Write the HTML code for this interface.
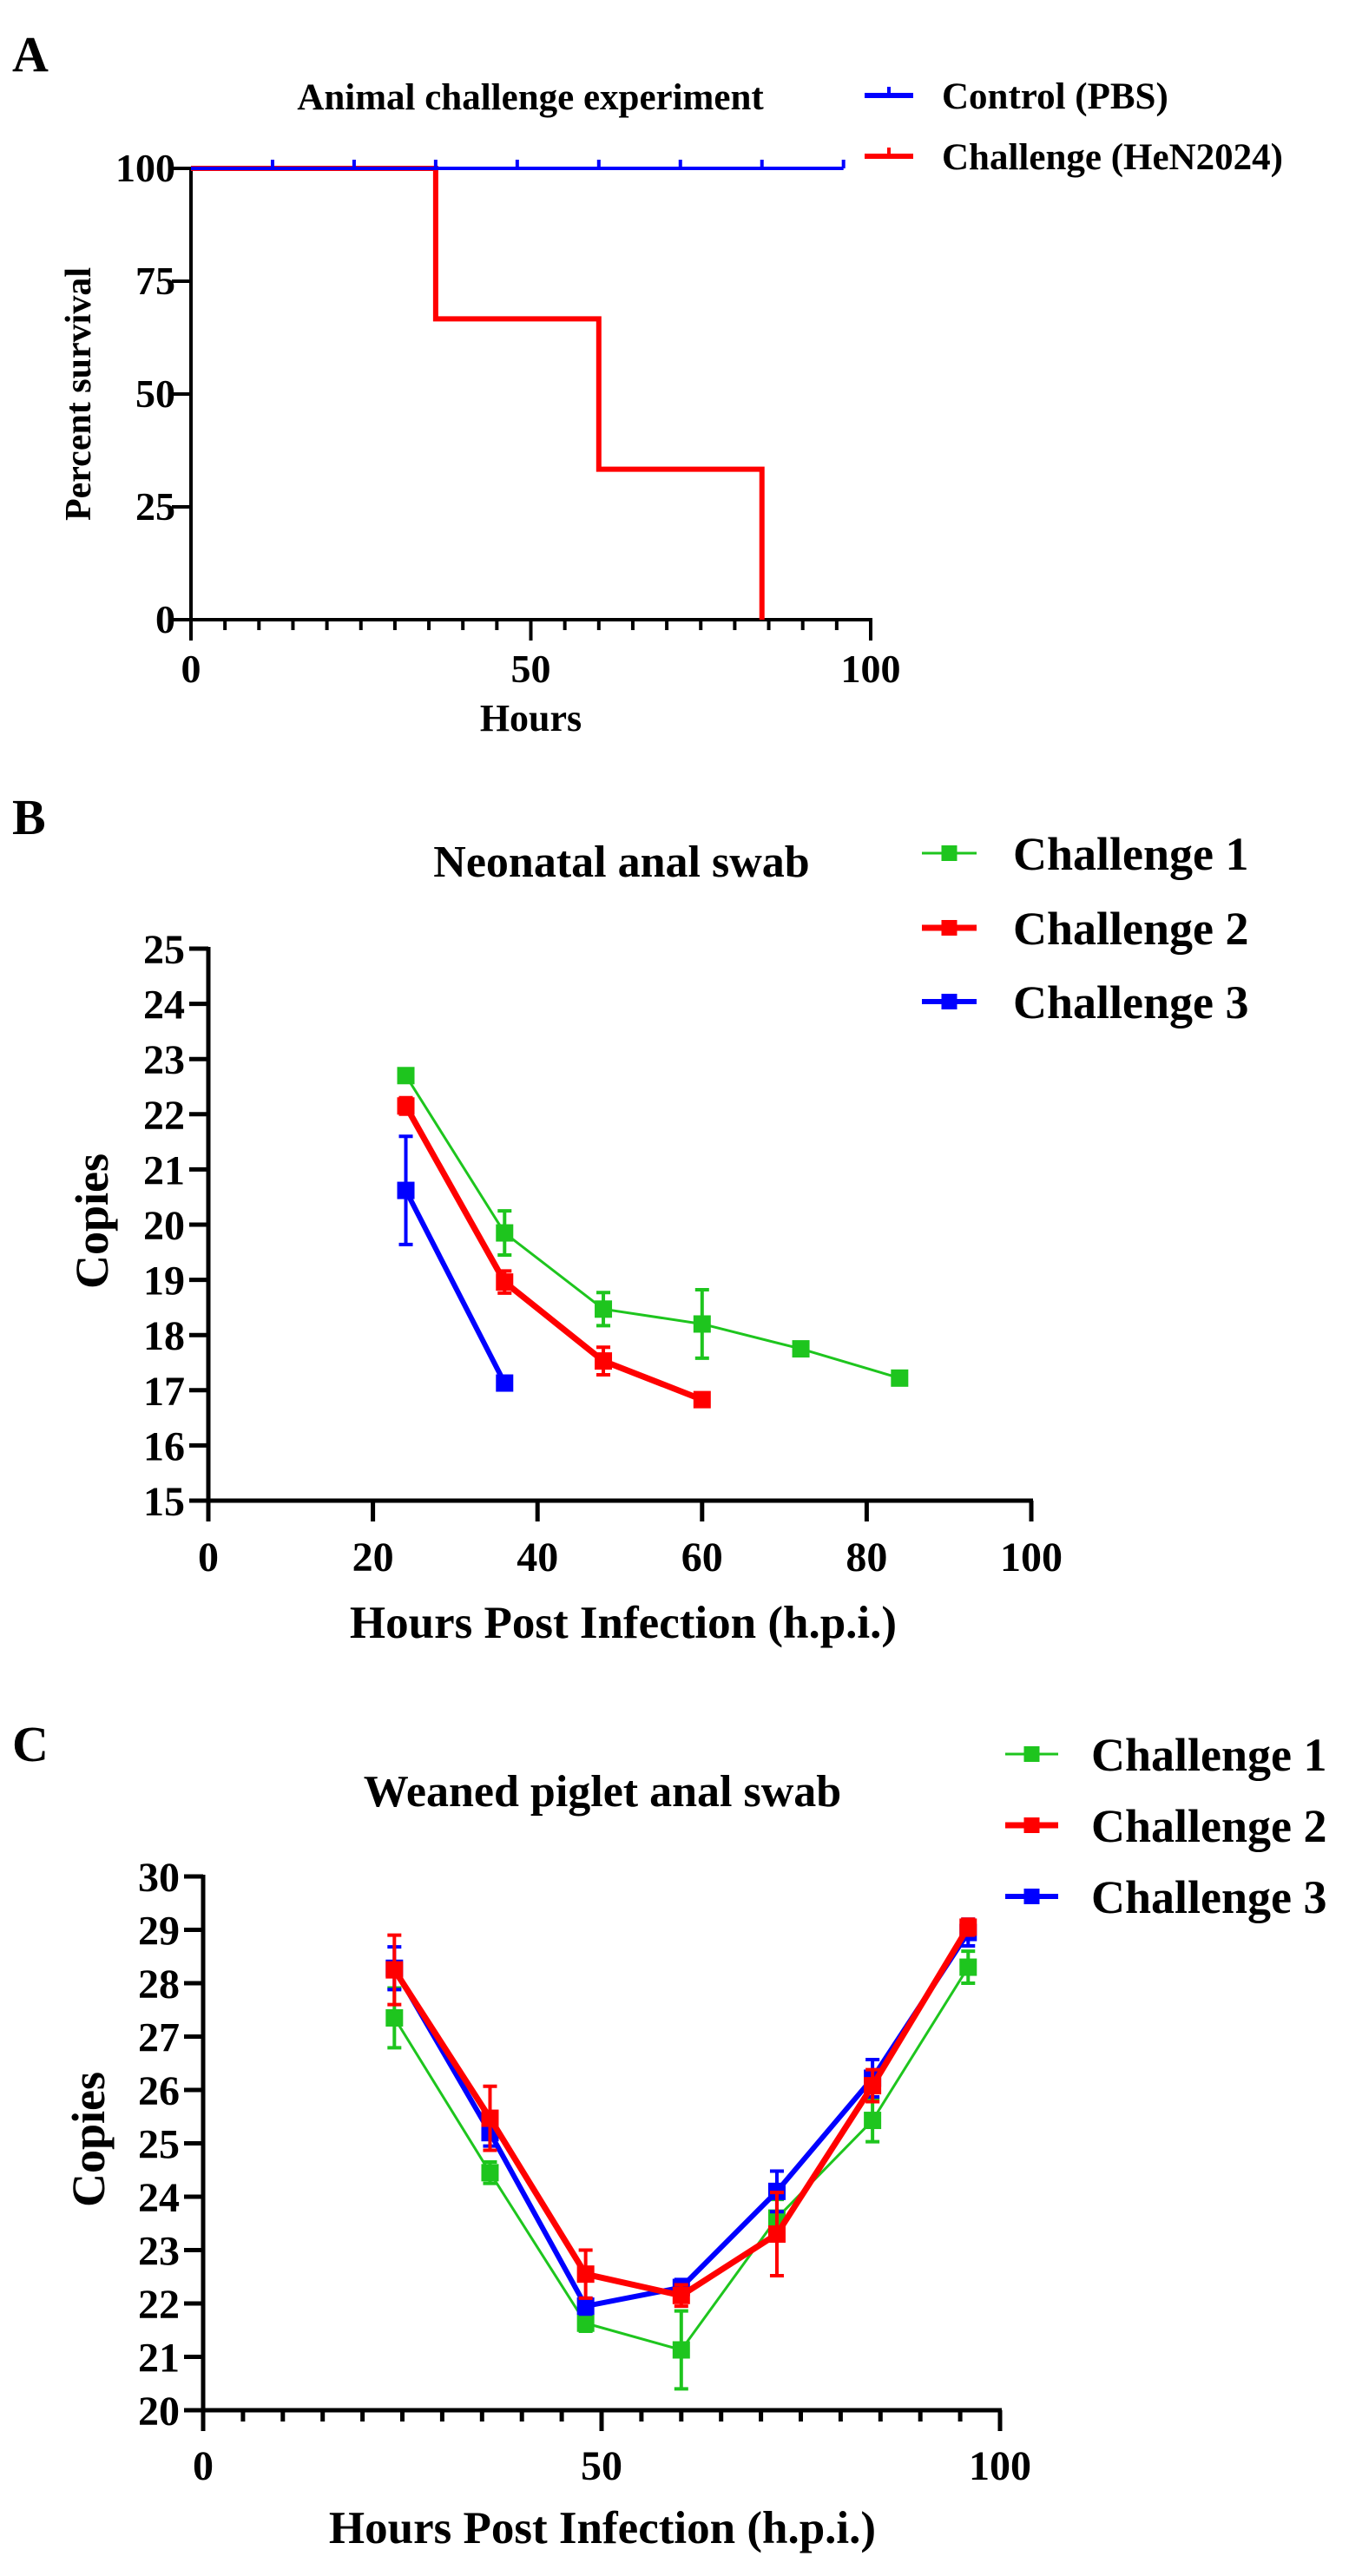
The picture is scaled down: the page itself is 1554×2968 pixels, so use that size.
<!DOCTYPE html>
<html><head><meta charset="utf-8"><style>
html,body{margin:0;padding:0;background:#fff}
svg{display:block}
text{font-family:"Liberation Serif",serif;font-weight:bold;fill:#000}
</style></head><body>
<svg id="fig" width="1554" height="2968" viewBox="0 0 1554 2968" xmlns="http://www.w3.org/2000/svg"></svg>
<script>
// ---------- Panel A data ----------
const ctrlTimes = [0, 96];
const ctrlSurv = [100, 100];
const ctrlCensor = [12, 24, 36, 48, 60, 72, 84, 96];
const chalTimes = [0, 36, 60, 84];
const chalSurv = [100, 66.67, 33.33, 0];
const aYTicks = [0, 25, 50, 75, 100];
const aXTicks = [0, 50, 100];
// ---------- Panel B data ----------
const bHours1 = [24, 36, 48, 60, 72, 84];
const bVal1 = [22.7, 19.85, 18.47, 18.2, 17.75, 17.22];
const bErr1 = [0.1, 0.4, 0.3, 0.62, 0.08, 0.08];
const bHours2 = [24, 36, 48, 60];
const bVal2 = [22.15, 18.96, 17.53, 16.83];
const bErr2 = [0.15, 0.2, 0.25, 0.1];
const bHours3 = [24, 36];
const bVal3 = [20.62, 17.13];
const bErr3 = [0.98, 0.08];
const bYTicks = [15, 16, 17, 18, 19, 20, 21, 22, 23, 24, 25];
const bXTicks = [0, 20, 40, 60, 80, 100];
// ---------- Panel C data ----------
const cHours = [24, 36, 48, 60, 72, 84, 96];
const cVal1 = [27.35, 24.45, 21.63, 21.13, 23.6, 25.43, 28.3];
const cErr1 = [0.56, 0.2, 0.15, 0.73, 0.35, 0.4, 0.3];
const cVal2 = [28.25, 25.47, 22.55, 22.15, 23.3, 26.08, 29.05];
const cErr2 = [0.65, 0.6, 0.45, 0.2, 0.78, 0.3, 0.15];
const cVal3 = [28.28, 25.2, 21.95, 22.3, 24.1, 26.22, 28.95];
const cErr3 = [0.4, 0.25, 0.15, 0.15, 0.38, 0.35, 0.25];
const cYTicks = [20, 21, 22, 23, 24, 25, 26, 27, 28, 29, 30];
const cXTicks = [0, 50, 100];

const NS = "http://www.w3.org/2000/svg";
const svg = document.getElementById("fig");
function mk(tag, attrs, parent) {
  const e = document.createElementNS(NS, tag);
  for (const k in attrs) e.setAttribute(k, attrs[k]);
  (parent || svg).appendChild(e);
  return e;
}
function txt(s, x, y, size, anchor, parent) {
  const t = mk("text", {x: x, y: y, "font-size": size, "text-anchor": anchor || "start"}, parent);
  t.textContent = s;
  return t;
}

// ================= PANEL A =================
const xA = v => 220 + v * 7.83;
const yA = v => 714 - v * 5.2;
const gA = mk("g", {});


let el = txt("A", 14, 82, 58, "start", gA);


el = txt("Animal challenge experiment", 611, 126, 43, "middle", gA);


// axes
el = mk("line", {x1: xA(0), y1: yA(100), x2: xA(0), y2: yA(0) + 2, stroke: "#000", "stroke-width": 4}, gA);


el = mk("line", {x1: xA(0) - 2, y1: yA(0), x2: xA(100) + 2, y2: yA(0), stroke: "#000", "stroke-width": 4}, gA);


for (const v of aYTicks) {
  el = mk("line", {x1: xA(0) - 22, y1: yA(v), x2: xA(0), y2: yA(v), stroke: "#000", "stroke-width": 4}, gA);
  
  
  el = txt(String(v), 202, yA(v) + 15, 46, "end", gA);
  
  
}
for (let v = 0; v <= 100; v += 5) {
  const major = aXTicks.indexOf(v) >= 0;
  el = mk("line", {x1: xA(v), y1: yA(0), x2: xA(v), y2: yA(0) + (major ? 24 : 12), stroke: "#000", "stroke-width": 4}, gA);
  
  
}
for (const v of aXTicks) {
  el = txt(String(v), xA(v), 786, 46, "middle", gA);
  
  
}
el = txt("Hours", xA(50), 842, 44, "middle", gA);


el = txt("Percent survival", 0, 0, 42, "middle", gA);
el.setAttribute("transform", "translate(104,454) rotate(-90)");


// challenge step curve
let d = "M" + xA(chalTimes[0]) + " " + yA(chalSurv[0]);
for (let i = 1; i < chalTimes.length; i++) {
  d += " H" + xA(chalTimes[i]) + " V" + yA(chalSurv[i]);
}
el = mk("path", {d: d, fill: "none", stroke: "#ff0000", "stroke-width": 6}, gA);


// control curve
el = mk("line", {x1: xA(ctrlTimes[0]), y1: yA(ctrlSurv[0]), x2: xA(ctrlTimes[1]), y2: yA(ctrlSurv[1]), stroke: "#0000ff", "stroke-width": 4}, gA);


for (const t of ctrlCensor) {
  el = mk("line", {x1: xA(t), y1: yA(100), x2: xA(t), y2: yA(100) - 10, stroke: "#0000ff", "stroke-width": 4}, gA);
  
  
}
// legend
el = mk("line", {x1: 996, y1: 110, x2: 1052, y2: 110, stroke: "#0000ff", "stroke-width": 6}, gA);


el = mk("line", {x1: 1024, y1: 110, x2: 1024, y2: 100, stroke: "#0000ff", "stroke-width": 4}, gA);


el = txt("Control (PBS)", 1085, 125, 43, "start", gA);


el = mk("line", {x1: 996, y1: 180, x2: 1052, y2: 180, stroke: "#ff0000", "stroke-width": 6}, gA);


el = mk("line", {x1: 1024, y1: 180, x2: 1024, y2: 170, stroke: "#ff0000", "stroke-width": 4}, gA);


el = txt("Challenge (HeN2024)", 1085, 195, 43, "start", gA);



// ================= shared series drawer =================
function drawSeries(g, xs, ys, es, xf, yf, color, lw, name) {
  let p = "";
  for (let i = 0; i < xs.length; i++) p += (i ? " L" : "M") + xf(xs[i]) + " " + yf(ys[i]);
  let e = mk("path", {d: p, fill: "none", stroke: color, "stroke-width": lw, "stroke-linejoin": "round"}, g);
  
  
  for (let i = 0; i < xs.length; i++) {
    const cx = xf(xs[i]), top = yf(ys[i] + es[i]), bot = yf(ys[i] - es[i]);
    e = mk("path", {d: "M" + cx + " " + top + " V" + bot + " M" + (cx - 8) + " " + top + " H" + (cx + 8) + " M" + (cx - 8) + " " + bot + " H" + (cx + 8), fill: "none", stroke: color, "stroke-width": 4}, g);
    
    
    e = mk("rect", {x: cx - 10, y: yf(ys[i]) - 10, width: 20, height: 20, fill: color}, g);
    
    
  }
}
function legendEntry(g, x1, x2, y, color, lw, label, tx, name) {
  let e = mk("line", {x1: x1, y1: y, x2: x2, y2: y, stroke: color, "stroke-width": lw}, g);
  
  
  e = mk("rect", {x: (x1 + x2) / 2 - 9, y: y - 9, width: 18, height: 18, fill: color}, g);
  
  
  e = txt(label, tx, y + 19, 54, "start", g);
  
  
}

// ================= PANEL B =================
const xB = v => 240 + v * 9.48;
const yB = v => 1729 - (v - 15) * 63.6;
const gB = mk("g", {});


el = txt("B", 14, 961, 58, "start", gB);


el = txt("Neonatal anal swab", 716, 1010, 52, "middle", gB);


el = mk("line", {x1: xB(0), y1: yB(25) - 2, x2: xB(0), y2: yB(15) + 2, stroke: "#000", "stroke-width": 5}, gB);


el = mk("line", {x1: xB(0) - 2, y1: yB(15), x2: xB(100) + 2, y2: yB(15), stroke: "#000", "stroke-width": 5}, gB);


for (const v of bYTicks) {
  el = mk("line", {x1: xB(0) - 22, y1: yB(v), x2: xB(0), y2: yB(v), stroke: "#000", "stroke-width": 5}, gB);
  
  
  el = txt(String(v), 213, yB(v) + 17, 48, "end", gB);
  
  
}
for (const v of bXTicks) {
  el = mk("line", {x1: xB(v), y1: yB(15), x2: xB(v), y2: yB(15) + 24, stroke: "#000", "stroke-width": 5}, gB);
  
  
  el = txt(String(v), xB(v), 1810, 48, "middle", gB);
  
  
}
el = txt("Hours Post Infection (h.p.i.)", 718, 1887, 53, "middle", gB);


el = txt("Copies", 0, 0, 54, "middle", gB);
el.setAttribute("transform", "translate(124,1407) rotate(-90)");


drawSeries(gB, bHours1, bVal1, bErr1, xB, yB, "#1ec51e", 3, "b-challenge-1");
drawSeries(gB, bHours3, bVal3, bErr3, xB, yB, "#0000ff", 6, "b-challenge-3");
drawSeries(gB, bHours2, bVal2, bErr2, xB, yB, "#ff0000", 7, "b-challenge-2");
legendEntry(gB, 1062, 1125, 983, "#1ec51e", 3, "Challenge 1", 1167, "b-legend-challenge-1");
legendEntry(gB, 1062, 1125, 1069, "#ff0000", 7, "Challenge 2", 1167, "b-legend-challenge-2");
legendEntry(gB, 1062, 1125, 1154, "#0000ff", 6, "Challenge 3", 1167, "b-legend-challenge-3");

// ================= PANEL C =================
const xC = v => 234 + v * 9.18;
const yC = v => 2777 - (v - 20) * 61.5;
const gC = mk("g", {});


el = txt("C", 14, 2029, 58, "start", gC);


el = txt("Weaned piglet anal swab", 694, 2081, 52, "middle", gC);


el = mk("line", {x1: xC(0), y1: yC(30) - 2, x2: xC(0), y2: yC(20) + 2, stroke: "#000", "stroke-width": 5}, gC);


el = mk("line", {x1: xC(0) - 2, y1: yC(20), x2: xC(100) + 2, y2: yC(20), stroke: "#000", "stroke-width": 5}, gC);


for (const v of cYTicks) {
  el = mk("line", {x1: xC(0) - 22, y1: yC(v), x2: xC(0), y2: yC(v), stroke: "#000", "stroke-width": 5}, gC);
  
  
  el = txt(String(v), 207, yC(v) + 17, 48, "end", gC);
  
  
}
for (let v = 0; v <= 100; v += 5) {
  const major = cXTicks.indexOf(v) >= 0;
  el = mk("line", {x1: xC(v), y1: yC(20), x2: xC(v), y2: yC(20) + (major ? 24 : 13), stroke: "#000", "stroke-width": 5}, gC);
  
  
}
for (const v of cXTicks) {
  el = txt(String(v), xC(v), 2857, 48, "middle", gC);
  
  
}
el = txt("Hours Post Infection (h.p.i.)", 694, 2930, 53, "middle", gC);


el = txt("Copies", 0, 0, 54, "middle", gC);
el.setAttribute("transform", "translate(120,2465) rotate(-90)");


drawSeries(gC, cHours, cVal1, cErr1, xC, yC, "#1ec51e", 3, "c-challenge-1");
drawSeries(gC, cHours, cVal3, cErr3, xC, yC, "#0000ff", 6, "c-challenge-3");
drawSeries(gC, cHours, cVal2, cErr2, xC, yC, "#ff0000", 7, "c-challenge-2");
legendEntry(gC, 1158, 1219, 2021, "#1ec51e", 3, "Challenge 1", 1257, "c-legend-challenge-1");
legendEntry(gC, 1158, 1219, 2103, "#ff0000", 7, "Challenge 2", 1257, "c-legend-challenge-2");
legendEntry(gC, 1158, 1219, 2185, "#0000ff", 6, "Challenge 3", 1257, "c-legend-challenge-3");
</script>
</body></html>
